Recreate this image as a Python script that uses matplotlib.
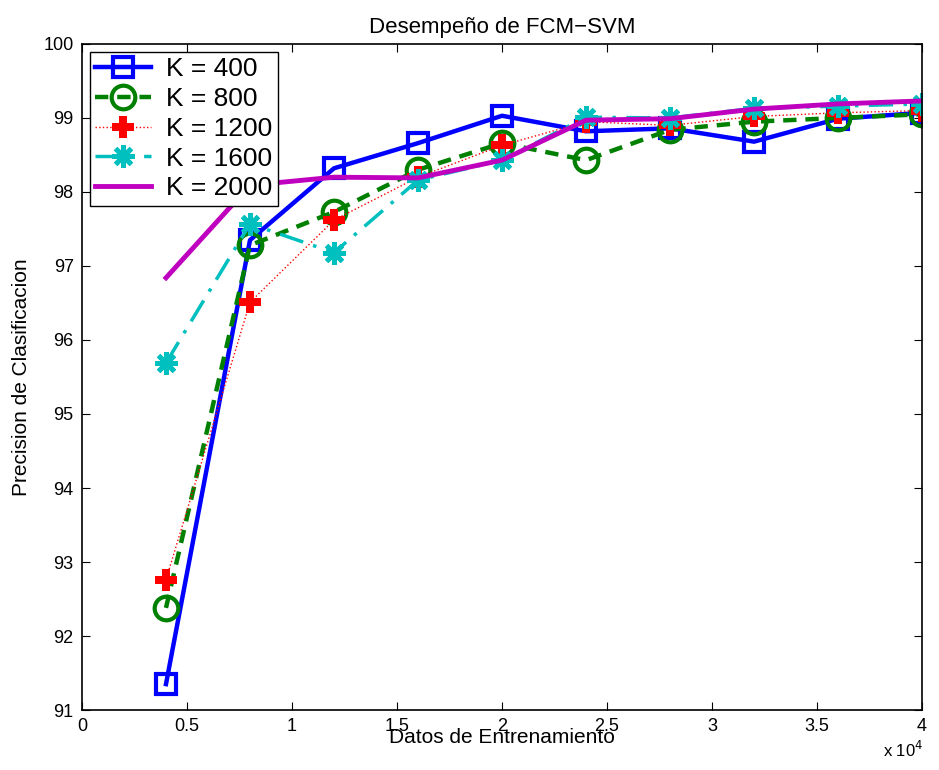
import matplotlib
matplotlib.use("Agg")
import matplotlib.pyplot as plt

plt.rcParams['font.family'] = ['Liberation Sans', 'DejaVu Sans']

# training set sizes
datos = [4000, 8000, 12000, 16000, 20000, 24000, 28000, 32000, 36000, 40000]

k400 = [91.35, 97.35, 98.32, 98.66, 99.03, 98.82, 98.86, 98.68, 98.99, 99.07]
k800 = [92.38, 97.28, 97.73, 98.30, 98.66, 98.43, 98.84, 98.95, 99.00, 99.05]
k1200 = [92.76, 96.51, 97.62, 98.20, 98.63, 98.95, 98.90, 99.02, 99.07, 99.10]
k1600 = [95.69, 97.57, 97.18, 98.16, 98.43, 99.01, 99.00, 99.13, 99.16, 99.19]
k2000 = [96.84, 98.09, 98.20, 98.19, 98.43, 98.97, 98.99, 99.12, 99.19, 99.23]

etiquetas = ['K = 400', 'K = 800', 'K = 1200', 'K = 1600', 'K = 2000']

fig = plt.figure(figsize=(9.39, 7.70), dpi=100)
ax = fig.add_axes([0.0873, 0.0779, 0.8947, 0.865])

ax.plot(datos, k400, color='#0000ff', lw=3.2, marker='s', ms=15, mfc='none', mew=3, label=etiquetas[0])
ax.plot(datos, k800, color='#008000', lw=3.2, ls='--', dashes=(3, 2), marker='o', ms=17, mfc='none', mew=3, label=etiquetas[1])
ax.plot(datos, k1200, color='#ff0000', lw=1, ls=':', marker='P', ms=16, mew=0, label=etiquetas[2])
ax.plot(datos, k1600, color='#00bfbf', lw=2.5, ls='-.', dashes=(7, 3, 1, 3), marker=(8, 2, 0), ms=16, mew=3.5, label=etiquetas[3])
ax.plot(datos, k2000, color='#bf00bf', lw=3.5, label=etiquetas[4])

ax.set_xlim(0, 40000)
ax.set_ylim(91, 100)
ax.set_xticks([0, 5000, 10000, 15000, 20000, 25000, 30000, 35000, 40000])
ax.set_xticklabels(['0', '0.5', '1', '1.5', '2', '2.5', '3', '3.5', '4'])
ax.set_yticks(range(91, 101))
ax.tick_params(direction='in', top=True, right=True, labelsize=13, length=6, pad=6)
for s in ax.spines.values():
    s.set_linewidth(1.2)

ax.set_title('Desempeño de FCM\u2212SVM', fontsize=16, pad=8)
ax.set_ylabel('Precision de Clasificacion', fontsize=15, labelpad=9)
ax.set_xlabel('Datos de Entrenamiento', fontsize=15, labelpad=-5)
fig.text(0.94, 0.017, r'x 10$^4$', fontsize=12, ha='left')

ax.legend(loc='upper left', fontsize=19, frameon=True, fancybox=False, edgecolor='black',
          framealpha=1, borderpad=0.2, labelspacing=0.22, handlelength=2.1,
          handletextpad=0.6, borderaxespad=0.3)

fig.savefig('out.png', dpi=100)
